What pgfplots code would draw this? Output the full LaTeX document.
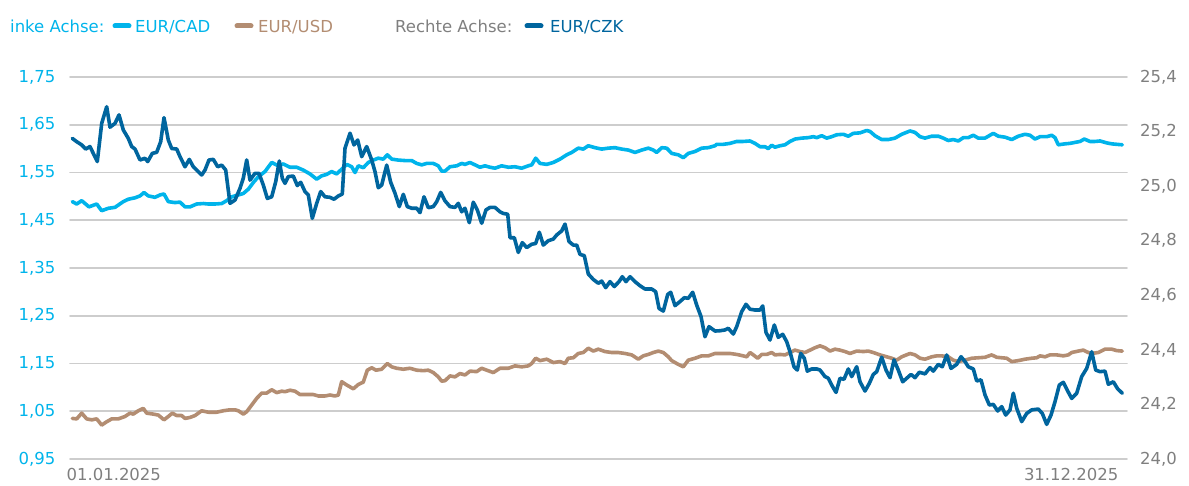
\documentclass[border=0pt]{standalone}
\usepackage{fontspec}
\setmainfont{DejaVu Sans}
\usepackage{pgfplots}
\pgfplotsset{compat=1.18}
\definecolor{cad}{HTML}{00B4EB}
\definecolor{usd}{HTML}{B38D72}
\definecolor{czk}{HTML}{00659E}
\definecolor{txtgray}{HTML}{7F7F7F}
\definecolor{gridgray}{HTML}{CDCDCD}
\pgfplotsset{
  base/.style={
    at={(70pt,27pt)}, anchor=south west,
    scale only axis, width=1057pt, height=382pt,
    xmin=70, xmax=1127,
    axis line style={draw=none},
    major tick length=0pt,
    tick style={draw=none},
    /pgf/number format/assume math mode=true,
    every tick label/.append style={font=\fontsize{16.5}{20}\selectfont},
    line join=round, line cap=round,
  }
}
\begin{document}
\begin{tikzpicture}
\path[use as bounding box] (0,0) rectangle (1189pt,486pt);
\begin{axis}[base,
  ymin=0.95, ymax=1.75,
  ytick={0.95,1.05,1.15,1.25,1.35,1.45,1.55,1.65,1.75},
  yticklabel style={/pgf/number format/.cd, fixed, fixed zerofill, precision=2, use comma, /tikz/.cd, text=cad, xshift=-11pt},
  ymajorgrids, grid style={gridgray, line width=1.6pt},
  xtick={73}, xticklabels={01.01.2025},
  xticklabel style={anchor=north west, text=txtgray, yshift=-6pt, xshift=-10pt},
  extra x ticks={1122}, extra x tick labels={31.12.2025},
  extra x tick style={grid=none, xticklabel style={anchor=north east, xshift=10pt}},
]
\addplot[cad, line width=3.6pt] coordinates {
(72.3,1.489)(76.7,1.484)(81.7,1.491)(89,1.478)(96.7,1.484)(101.7,1.470)(108.3,1.475)(115,1.477)(123.3,1.489)(128.3,1.494)(135,1.497)(140,1.501)(144,1.508)(148.3,1.501)(155,1.498)(160,1.503)(164,1.505)(168.3,1.489)(175,1.487)(180,1.488)(185,1.478)(190,1.478)(196.7,1.484)(203.3,1.485)(208.3,1.484)(215,1.484)(221.7,1.485)(226.7,1.491)(231.7,1.499)(238.3,1.503)(243.3,1.506)(248.3,1.515)(253.3,1.529)(258.3,1.541)(265,1.552)(271.7,1.571)(278.3,1.564)(283.3,1.568)
(285,1.566)(290,1.561)(296.7,1.561)(303.3,1.555)(310,1.547)(316.7,1.536)(321.7,1.543)(326.7,1.546)(331.7,1.552)(336.7,1.547)(341.7,1.557)(346.7,1.567)(351.7,1.562)(355,1.550)(358.3,1.564)(363.3,1.560)(368.3,1.571)(373.3,1.576)(378.3,1.580)(383.3,1.578)(387.3,1.587)(391.7,1.578)(398.3,1.576)(405,1.575)(411.7,1.575)(416.7,1.569)(421.7,1.566)(426.7,1.569)(433.3,1.569)(438.3,1.564)(441.7,1.553)(445,1.553)(450,1.562)(456.7,1.564)(461.7,1.569)(465,1.567)(470,1.571)(475,1.566)(480,1.561)(485,1.564)(490,1.561)(495,1.559)
(501.7,1.564)(508.3,1.561)(515,1.562)(521.7,1.559)(528.3,1.564)(531.7,1.566)(535.7,1.580)(540,1.569)(546.7,1.567)(553.3,1.571)(560,1.578)(566.7,1.587)(571.7,1.592)(578.3,1.601)(583.3,1.599)(588.3,1.606)(595,1.602)(601.7,1.599)(608.3,1.601)(615,1.602)(621.7,1.599)(628.3,1.597)(635,1.592)(641.7,1.597)(648.3,1.601)(653.3,1.597)(656.7,1.592)(661.7,1.602)(666.7,1.601)(671.7,1.590)(678.3,1.587)(683.3,1.581)(688.3,1.590)(695,1.594)(701.7,1.601)(708.3,1.602)(715,1.606)
(716.7,1.609)(723.3,1.609)(730,1.611)(736.7,1.615)(743.3,1.615)(750,1.616)(755,1.611)(760,1.604)(765,1.604)(768.3,1.600)(771.7,1.607)(775,1.603)(780,1.606)(785,1.608)(790,1.615)(795,1.620)(801.7,1.622)(808.3,1.623)(813.3,1.625)(816.7,1.623)(821.7,1.627)(826.7,1.622)(831.7,1.625)(836.7,1.629)(843.3,1.630)(848.3,1.626)(853.3,1.632)(860,1.633)(866.7,1.638)(870,1.636)(875,1.627)(881.7,1.619)(888.3,1.619)(895,1.622)(901.7,1.630)(910,1.637)(915,1.634)(920,1.625)(925,1.622)
(931.7,1.626)(938.3,1.626)(943.3,1.622)(948.3,1.617)(953.3,1.619)(958.3,1.616)(963.3,1.623)(968.3,1.623)(973.3,1.628)(978.3,1.622)(985,1.622)(993.3,1.632)(998.3,1.626)(1005,1.624)(1011.7,1.619)(1018.3,1.626)(1025,1.630)(1030,1.628)(1035,1.620)(1040,1.625)(1046.7,1.625)(1051.7,1.628)(1055,1.623)(1058.3,1.608)(1065,1.610)(1070,1.611)(1075,1.613)(1080,1.615)(1084.3,1.620)(1090,1.615)(1095,1.615)(1100,1.616)(1106.7,1.612)(1111.7,1.610)(1116.7,1.609)(1122.3,1.608)
};
\addplot[usd, line width=3.6pt] coordinates {
(72.3,1.035)(76.7,1.034)(81.7,1.046)(86.7,1.034)(91.7,1.032)(96.7,1.034)(101.7,1.021)(106.7,1.028)(111.7,1.034)(118.3,1.034)(125,1.039)(130,1.046)(133.3,1.044)(138.3,1.051)(143.3,1.056)(146.7,1.046)(153.3,1.044)(158.3,1.042)(164,1.032)(168.3,1.039)(172.3,1.046)(176.7,1.041)(181.7,1.041)(185,1.035)(190,1.037)(195,1.041)(201.7,1.051)(208.3,1.048)(216.7,1.048)(223.3,1.051)(230,1.053)(235,1.053)(238.3,1.051)(243.3,1.044)(246.7,1.049)(251.7,1.063)(256.7,1.077)(261.7,1.088)(266.7,1.088)(271.7,1.095)(276.7,1.089)(281.7,1.092)
(285,1.091)(290,1.094)(295,1.092)(300,1.085)(306.7,1.085)(313.3,1.085)(318.3,1.082)(325,1.082)(330,1.084)(335,1.082)(338.3,1.084)(341.7,1.112)(346.7,1.105)(353.3,1.097)(358.3,1.106)(363.3,1.111)(367.3,1.136)(371.7,1.141)(376,1.136)(381.7,1.138)(387.3,1.150)(391.7,1.143)(396.7,1.140)(403.3,1.138)(410,1.140)(416.7,1.136)(423.3,1.135)(428.3,1.136)(433.3,1.131)(438.3,1.122)(441.7,1.113)(445,1.114)(450,1.124)(455,1.122)(460,1.129)(465,1.126)(470,1.134)(476.7,1.133)(481.7,1.140)(486.7,1.136)(493.3,1.131)(500,1.140)
(508.3,1.140)(515,1.145)(521.7,1.143)(528.3,1.145)(531.7,1.150)(535.7,1.161)(540,1.156)(546.7,1.159)(553.3,1.152)(560,1.154)(565,1.150)(568.3,1.161)(573.3,1.162)(578.3,1.171)(583.3,1.173)(588.3,1.182)(593.3,1.176)(598.3,1.180)(605,1.175)(611.7,1.173)(618.3,1.173)(625,1.171)(631.7,1.168)(638.3,1.159)(643.3,1.166)(648.3,1.169)(653.3,1.173)(658.3,1.176)(663.3,1.173)(668.3,1.164)(671.7,1.156)(676.7,1.150)(683.3,1.143)(688.3,1.157)(695,1.161)(701.7,1.166)(708.3,1.166)(715,1.171)
(723.3,1.171)(730,1.171)(736.7,1.169)(743.3,1.166)(746.7,1.164)(750,1.173)(753.3,1.168)(757.7,1.161)(761.7,1.169)(766.7,1.169)(771.7,1.173)(775,1.168)(780,1.169)(785,1.168)(790,1.173)(795,1.178)(800,1.175)(805,1.173)(810,1.178)(815,1.183)(820,1.187)(825,1.183)(830,1.176)(835,1.180)(840,1.178)(845,1.175)(850,1.171)(856.7,1.176)(863.3,1.175)(868.3,1.176)(873.3,1.173)(880,1.168)(886.7,1.164)(891.7,1.161)(896.7,1.157)(901.7,1.164)(910,1.171)(915,1.168)(920,1.161)(925,1.159)
(931.7,1.164)(936.7,1.166)(941.7,1.166)(948.3,1.164)(953.3,1.157)(958.3,1.154)(965,1.157)(971.7,1.161)(978.3,1.162)(985,1.163)(991.7,1.168)(996.7,1.163)(1001.7,1.162)(1006.7,1.161)(1011.7,1.154)(1018.3,1.156)(1025,1.159)(1031.7,1.161)(1036.7,1.162)(1040,1.166)(1045,1.164)(1050,1.168)(1056.7,1.168)(1063.3,1.166)(1068.3,1.168)(1071.7,1.173)(1078.3,1.176)(1083.3,1.178)(1088.3,1.173)(1091.7,1.171)(1098.3,1.173)(1105,1.180)(1111.7,1.180)(1116.7,1.177)(1122.3,1.176)
};
\end{axis}
\begin{axis}[base,
  ymin=24.0, ymax=25.4,
  ytick={24.0,24.2,24.4,24.6,24.8,25.0,25.2,25.4},
  axis y line*=right,
  hide x axis,
  yticklabel style={/pgf/number format/.cd, fixed, fixed zerofill, precision=1, use comma, /tikz/.cd, text=txtgray, xshift=9.5pt},
]
\addplot[czk, line width=3.6pt] coordinates {
(72.3,25.175)(76.7,25.163)(81.7,25.151)(85.7,25.136)(90,25.145)(93.3,25.120)(97.3,25.090)(101.7,25.230)(106.7,25.291)(110,25.216)(115,25.230)(119,25.261)(123.3,25.206)(128.3,25.175)(131.7,25.145)(135,25.136)(140,25.096)(145,25.102)(147.7,25.090)(152.3,25.120)(156.7,25.124)(160.7,25.163)(164,25.251)(168.3,25.169)(171.7,25.138)(176.7,25.136)(180,25.108)(185,25.071)(189.3,25.098)(193.3,25.071)(198.3,25.053)(201.7,25.041)(205,25.059)(209,25.096)(213.3,25.098)(217.7,25.071)(221.7,25.077)(225.7,25.059)(230,24.937)(235,24.949)(240,24.992)(243.3,25.029)(246.7,25.096)(250,25.022)(255,25.047)(259,25.047)(263.3,25.004)(267.3,24.955)(271.7,24.961)(275.7,25.016)(279.3,25.092)(282.3,25.029)(285,25.010)
(288.3,25.035)(293.3,25.037)(297.3,25.002)(300.7,25.014)(305,24.980)(308.3,24.968)(312.3,24.882)(316.7,24.937)(320.7,24.980)(325,24.961)(330,24.959)(334,24.952)(338.3,24.964)(342.3,24.971)(345,25.139)(350,25.194)(354,25.151)(357.7,25.169)(361.7,25.108)(366.7,25.145)(371.7,25.096)(375,25.053)(378.3,24.994)(381.7,25.004)(386.7,25.077)(390.7,25.014)(395,24.974)(399.3,24.925)(403.3,24.970)(407.3,24.925)(411.7,24.919)(416.7,24.919)(420,24.903)(424,24.961)(428.3,24.921)(433.3,24.925)(436.7,24.943)(440.7,24.977)(445,24.946)(450,24.925)(455,24.922)(458.3,24.937)(461.7,24.906)(465,24.919)(469.3,24.866)(473.3,24.941)(477.3,24.913)(481.7,24.864)(486,24.913)(490,24.922)(495,24.922)(500,24.906)
(503.3,24.900)(507.7,24.897)(510,24.811)(514.3,24.811)(518.3,24.757)(522.3,24.793)(526.7,24.775)(531.7,24.787)(535.7,24.790)(539.3,24.831)(543.3,24.784)(548.3,24.800)(553.3,24.806)(556.7,24.821)(561.7,24.836)(565,24.861)(569,24.797)(573.3,24.784)(576.7,24.784)(580,24.750)(584.3,24.745)(588.3,24.678)(593.3,24.658)(598.3,24.644)(601.7,24.652)(605.7,24.628)(610,24.650)(614.3,24.632)(619,24.650)(622.3,24.668)(626,24.650)(630,24.668)(635,24.650)(640,24.635)(645,24.623)(651.7,24.623)(655.7,24.613)(659,24.552)(663.3,24.542)(667.7,24.603)(670.7,24.611)(675,24.562)(680,24.577)(684.3,24.591)(688.3,24.589)(692.7,24.611)(696.7,24.564)(701,24.522)(705,24.448)(709,24.485)(715,24.469)
(720,24.470)(725,24.473)(728.3,24.479)(733.3,24.458)(736.7,24.485)(741.7,24.540)(746,24.567)(750,24.549)(755,24.546)(760,24.546)(762.7,24.561)(766,24.464)(770,24.436)(774.3,24.491)(778.3,24.446)(782.7,24.457)(786.7,24.430)(790,24.393)(794,24.338)(797.3,24.326)(800.7,24.387)(804.3,24.369)(807.3,24.322)(811.7,24.330)(816.7,24.330)(820,24.326)(825,24.302)(828.3,24.296)(831.7,24.271)(836,24.244)(840,24.296)(844,24.292)(848.3,24.330)(851.7,24.302)(856.7,24.338)(860,24.283)(865,24.249)(869.3,24.277)(873.3,24.310)(876.7,24.320)(881.7,24.373)(886,24.326)(890,24.298)(894,24.363)(898.3,24.326)(902.7,24.283)(906.7,24.296)(911,24.310)(915,24.298)(919.3,24.318)(925,24.312)(930,24.335)
(933.3,24.322)(938.3,24.347)(942.3,24.338)(946.7,24.381)(951,24.332)(956.7,24.347)(961,24.375)(965,24.357)(968.3,24.338)(973.3,24.330)(976.7,24.286)(981,24.290)(985,24.235)(989.3,24.198)(993.3,24.200)(997.7,24.176)(1001.7,24.192)(1005.7,24.161)(1010,24.180)(1013.3,24.241)(1016.7,24.186)(1021.7,24.137)(1026.7,24.167)(1031.7,24.180)(1038.3,24.183)(1042.3,24.167)(1046.7,24.127)(1051,24.161)(1055,24.210)(1059.3,24.271)(1063.3,24.281)(1067.7,24.249)(1071.7,24.222)(1076.7,24.241)(1081.7,24.302)(1086.7,24.332)(1091.7,24.393)(1095.7,24.326)(1100,24.320)(1105,24.322)(1108.3,24.274)(1113.3,24.283)(1117.7,24.257)(1122.3,24.241)
};
\end{axis}
% legend
\begin{scope}[font=\fontsize{16.5}{20}\selectfont]
\node[anchor=base west, inner sep=0, text=cad] at (10pt,453pt) {inke Achse:};
\draw[cad, line width=5pt, line cap=round] (115pt,460pt) -- (129pt,460pt);
\node[anchor=base west, inner sep=0, text=cad] at (135pt,453pt) {EUR/CAD};
\draw[usd, line width=5pt, line cap=round] (237pt,460pt) -- (251pt,460pt);
\node[anchor=base west, inner sep=0, text=usd] at (258pt,453pt) {EUR/USD};
\node[anchor=base west, inner sep=0, text=txtgray] at (395pt,453pt) {Rechte Achse:};
\draw[czk, line width=5pt, line cap=round] (527pt,460pt) -- (541pt,460pt);
\node[anchor=base west, inner sep=0, text=czk] at (550pt,453pt) {EUR/CZK};
\end{scope}
\end{tikzpicture}
\end{document}
